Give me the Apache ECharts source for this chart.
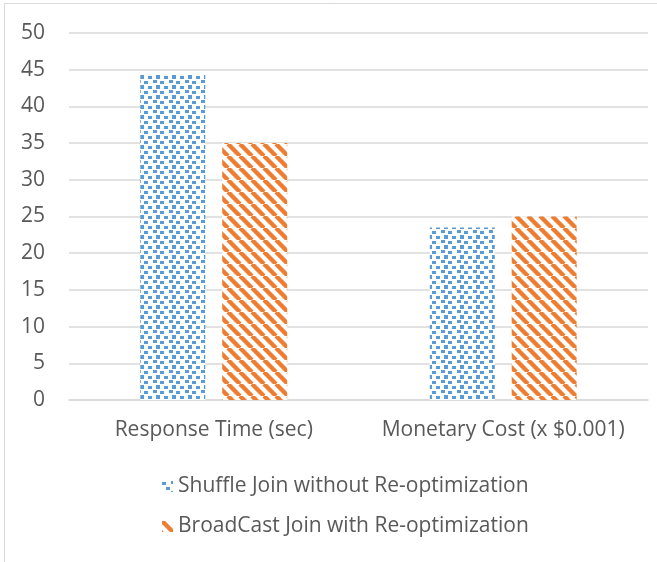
<!DOCTYPE html>
<html>
<head>
<meta charset="utf-8">
<script src="https://cdn.jsdelivr.net/npm/echarts@6/dist/echarts.min.js"></script>
<style>
  html, body { margin: 0; padding: 0; background: #fff; }
  #chart { width: 657px; height: 562px; }
</style>
</head>
<body>
<div id="chart"></div>
<script>
  var categories = ['Response Time (sec)', 'Monetary Cost (x $0.001)']
  var shuffleJoin = [44.4, 23.5]
  var broadcastJoin = [35.0, 25.0]
  var seriesNames = ['Shuffle Join without Re-optimization', 'BroadCast Join with Re-optimization']

  // confetti-like blue squares
  function dotPattern() {
    var c = document.createElement('canvas')
    c.width = 16
    c.height = 10
    var ctx = c.getContext('2d')
    ctx.fillStyle = '#fff'
    ctx.fillRect(0, 0, 16, 10)
    ctx.fillStyle = '#5B9BD5'
    ctx.fillRect(0, 1, 4, 3)
    ctx.fillRect(9, 0, 4, 3)
    ctx.fillRect(4, 6, 4, 3)
    ctx.fillRect(12, 5, 4, 4)
    return c
  }

  // orange "\" stripes
  function stripePattern() {
    var s = 12
    var c = document.createElement('canvas')
    c.width = s
    c.height = s
    var ctx = c.getContext('2d')
    ctx.fillStyle = '#fff'
    ctx.fillRect(0, 0, s, s)
    ctx.strokeStyle = '#ED7D31'
    ctx.lineWidth = 4.4
    for (var k = -1; k <= 1; k++) {
      ctx.beginPath()
      ctx.moveTo(k * s, 0)
      ctx.lineTo(k * s + s, s)
      ctx.stroke()
    }
    return c
  }

  var font = 'Open Sans, Liberation Sans, sans-serif'
  var chart = echarts.init(document.getElementById('chart'))
  chart.setOption({
    animation: false,
    textStyle: { fontFamily: font },
    graphic: [{
      type: 'rect',
      shape: { x: 4.5, y: 3.5, width: 800, height: 800 },
      style: { fill: 'none', stroke: '#D9D9D9', lineWidth: 1 },
      silent: true
    }],
    legend: {
      orient: 'vertical',
      left: 157,
      top: 471,
      itemWidth: 11,
      itemHeight: 11,
      itemGap: 19,
      icon: 'rect',
      textStyle: { color: '#595959', fontSize: 21, fontFamily: font },
      data: seriesNames
    },
    grid: {
      left: 69,
      right: 9,
      top: 33,
      bottom: 162
    },
    xAxis: {
      type: 'category',
      data: categories,
      axisTick: { show: false },
      axisLine: { lineStyle: { color: '#D9D9D9', width: 1.5 } },
      axisLabel: { color: '#595959', fontSize: 21, margin: 20, interval: 0, fontFamily: font }
    },
    yAxis: {
      type: 'value',
      min: 0,
      max: 50,
      interval: 5,
      axisLine: { show: false },
      axisTick: { show: false },
      splitLine: { lineStyle: { color: '#D9D9D9', width: 1.5 } },
      axisLabel: { color: '#595959', fontSize: 21, margin: 24, fontFamily: font }
    },
    series: [
      {
        name: seriesNames[0],
        type: 'bar',
        barWidth: 65,
        barGap: '26%',
        itemStyle: { color: { image: dotPattern(), repeat: 'repeat' } },
        data: shuffleJoin
      },
      {
        name: seriesNames[1],
        type: 'bar',
        barWidth: 65,
        barGap: '26%',
        itemStyle: { color: { image: stripePattern(), repeat: 'repeat' } },
        data: broadcastJoin
      }
    ]
  })
</script>
</body>
</html>
